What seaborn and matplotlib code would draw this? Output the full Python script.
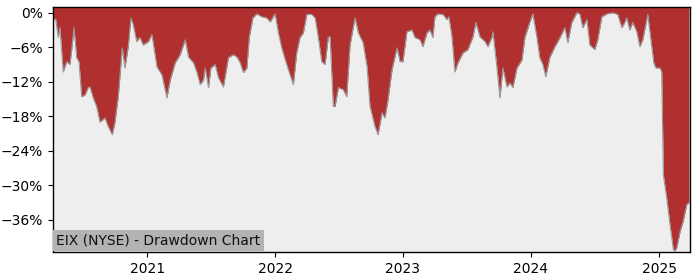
import numpy as np
import pandas as pd
import matplotlib
matplotlib.use("Agg")
import matplotlib.pyplot as plt
import matplotlib.dates as mdates
from matplotlib.ticker import FuncFormatter
import seaborn as sns

# Decimal-year positions of the traced drawdown points
years = [
    2020.266, 2020.287, 2020.307, 2020.320, 2020.346, 2020.373, 2020.398, 2020.412, 2020.430, 2020.451,
    2020.469, 2020.490, 2020.516, 2020.541, 2020.555, 2020.580, 2020.607, 2020.633, 2020.672, 2020.698,
    2020.729, 2020.750, 2020.776, 2020.807, 2020.828, 2020.854, 2020.875, 2020.893, 2020.920, 2020.945,
    2020.971, 2021.010, 2021.037, 2021.076, 2021.115, 2021.154, 2021.180, 2021.219, 2021.258, 2021.297,
    2021.323, 2021.362, 2021.388, 2021.414, 2021.440, 2021.453, 2021.479, 2021.498, 2021.531, 2021.557,
    2021.596, 2021.635, 2021.674, 2021.701, 2021.727, 2021.752, 2021.779, 2021.798, 2021.826, 2021.857,
    2021.896, 2021.935, 2021.961, 2022.000, 2022.026, 2022.052, 2022.091, 2022.143, 2022.169, 2022.195,
    2022.221, 2022.248, 2022.287, 2022.313, 2022.338, 2022.365, 2022.391, 2022.416, 2022.430, 2022.455,
    2022.469, 2022.495, 2022.534, 2022.560, 2022.586, 2022.625, 2022.651, 2022.688, 2022.719, 2022.742,
    2022.781, 2022.805, 2022.836, 2022.859, 2022.883, 2022.914, 2022.953, 2022.977, 2023.000, 2023.031,
    2023.070, 2023.094, 2023.133, 2023.156, 2023.188, 2023.211, 2023.234, 2023.250, 2023.273, 2023.313,
    2023.344, 2023.359, 2023.383, 2023.406, 2023.430, 2023.469, 2023.508, 2023.547, 2023.570, 2023.602,
    2023.641, 2023.664, 2023.695, 2023.703, 2023.734, 2023.758, 2023.781, 2023.813, 2023.836, 2023.859,
    2023.891, 2023.930, 2023.953, 2023.992, 2024.016, 2024.047, 2024.070, 2024.094, 2024.117, 2024.148,
    2024.188, 2024.219, 2024.266, 2024.289, 2024.320, 2024.359, 2024.383, 2024.406, 2024.438, 2024.461,
    2024.500, 2024.523, 2024.555, 2024.594, 2024.641, 2024.680, 2024.711, 2024.734, 2024.750, 2024.773,
    2024.797, 2024.828, 2024.852, 2024.875, 2024.914, 2024.945, 2024.961, 2024.977, 2025.008, 2025.021,
    2025.034, 2025.060, 2025.086, 2025.112, 2025.125, 2025.138, 2025.164, 2025.188, 2025.216, 2025.234,
]

# Drawdown in percent
drawdown = [
    -1.2, -1.1, -4.3, -2.6, -10.3, -8.5, -9.0, -6.4, -2.6, -7.8,
    -8.5, -14.6, -14.3, -13.0, -12.9, -14.8, -16.3, -19.0, -18.3, -19.8,
    -21.2, -19.1, -14.6, -6.1, -9.6, -5.9, -0.9, -2.1, -5.0, -4.3,
    -5.6, -5.0, -3.8, -9.4, -10.8, -14.8, -11.7, -8.7, -7.3, -4.7,
    -7.7, -8.7, -10.3, -12.5, -11.7, -9.6, -13.0, -9.6, -9.0, -11.3,
    -12.9, -7.8, -7.3, -7.7, -8.7, -10.4, -9.6, -4.2, -0.9, -0.2,
    -0.7, -0.9, -1.6, -0.2, -3.5, -6.1, -9.0, -12.5, -7.0, -4.3,
    -3.5, -0.3, -0.3, -0.9, -4.3, -8.5, -9.0, -4.2, -4.2, -16.3,
    -16.3, -13.0, -13.4, -14.6, -5.6, -0.9, -3.5, -5.2, -9.4, -16.3,
    -19.8, -21.2, -17.4, -18.3, -15.1, -9.9, -6.1, -8.5, -8.5, -3.3,
    -3.0, -4.3, -4.7, -5.9, -3.5, -3.0, -4.3, -0.7, -0.2, -0.3,
    -1.2, -0.7, -4.2, -10.3, -8.7, -7.0, -6.4, -4.2, -1.7, -4.2,
    -5.0, -5.9, -4.3, -3.3, -9.4, -14.8, -9.6, -12.9, -12.2, -13.0,
    -9.6, -8.2, -4.3, -1.6, -0.2, -4.2, -7.8, -9.0, -11.1, -7.8,
    -5.9, -4.7, -2.6, -5.2, -1.7, 0.0, -0.2, -2.6, -1.2, -5.6,
    -6.4, -4.7, -0.7, -0.2, 0.0, -0.3, -2.6, -1.7, -0.9, -3.0,
    -1.7, -3.3, -5.9, -4.7, -0.3, -5.9, -8.7, -9.6, -9.6, -10.3,
    -28.2, -32.2, -36.9, -41.2, -41.4, -40.9, -38.1, -36.3, -33.4, -33.0,
]

y_ticks = [0, -6, -12, -18, -24, -30, -36]
title_text = "EIX (NYSE) - Drawdown Chart"


def to_date(y):
    yr = int(np.floor(y))
    start = pd.Timestamp(year=yr, month=1, day=1)
    return start + pd.Timedelta(days=(y - yr) * 365.25)


df = pd.DataFrame({"date": [to_date(y) for y in years], "drawdown": drawdown})

fig = plt.figure(figsize=(7, 2.8), dpi=100)
ax = fig.add_axes([0.0757, 0.1, 0.91, 0.875])
ax.set_facecolor("#eeeeee")

y_top, y_bot = 1.0, -41.6
ax.fill_between(df["date"], df["drawdown"], y_top, color="#b03030", linewidth=0)
sns.lineplot(data=df, x="date", y="drawdown", ax=ax, color="#999999", linewidth=0.8)

ax.set_ylim(y_bot, y_top)
ax.set_xlim(to_date(2020.266), to_date(2025.242))
ax.set_yticks(y_ticks)
ax.yaxis.set_major_formatter(FuncFormatter(lambda v, p: f"{int(v)}%".replace("-", "\u2212")))
ax.xaxis.set_major_locator(mdates.YearLocator())
ax.xaxis.set_major_formatter(mdates.DateFormatter("%Y"))
ax.set_xlabel("")
ax.set_ylabel("")
for s in ax.spines.values():
    s.set_color("black")
    s.set_linewidth(1.0)
ax.tick_params(labelsize=10, colors="black")

ax.annotate(title_text, xy=(0, 0), xycoords="axes fraction",
            xytext=(2.5, 3.5), textcoords="offset points",
            ha="left", va="bottom", fontsize=10, color="#111111",
            bbox=dict(boxstyle="square,pad=0.25", facecolor="#b3b3b3", edgecolor="none"))

fig.savefig("out.png", dpi=100)
